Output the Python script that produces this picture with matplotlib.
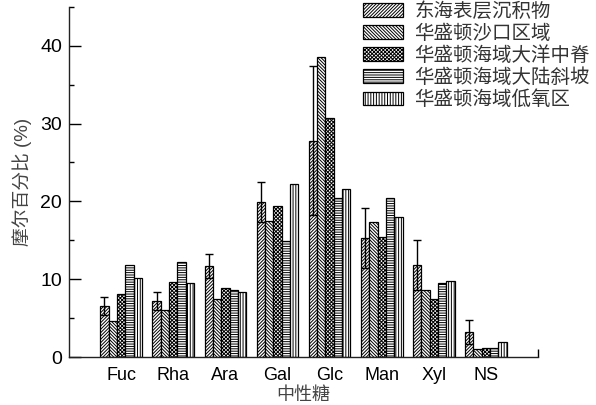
import matplotlib
matplotlib.use("Agg")
import matplotlib.pyplot as plt
import numpy as np

plt.rcParams['font.family'] = ['Liberation Sans', 'Noto Sans CJK SC']
plt.rcParams['hatch.linewidth'] = 0.7
plt.rcParams['axes.unicode_minus'] = False

# neutral sugar composition (mol %)
sugars = ['Fuc', 'Rha', 'Ara', 'Gal', 'Glc', 'Man', 'Xyl', 'NS']
series_names = ['东海表层沉积物', '华盛顿沙口区域', '华盛顿海域大洋中脊',
                '华盛顿海域大陆斜坡', '华盛顿海域低氧区']
east_sea = [6.6, 7.25, 11.7, 19.9, 27.8, 15.3, 11.8, 3.2]
east_sea_err = [1.15, 1.15, 1.5, 2.6, 9.6, 3.8, 3.2, 1.5]
wa_estuary = [4.6, 6.05, 7.4, 17.5, 38.5, 17.3, 8.6, 1.0]
wa_ridge = [8.05, 9.7, 8.9, 19.4, 30.7, 15.4, 7.4, 1.1]
wa_slope = [11.8, 12.2, 8.65, 14.9, 20.5, 20.5, 9.5, 1.15]
wa_hypoxic = [10.2, 9.5, 8.3, 22.3, 21.6, 18.0, 9.8, 1.9]

series = [east_sea, wa_estuary, wa_ridge, wa_slope, wa_hypoxic]
hatches = ['/' * 10, '\\' * 10, 'x' * 9, '-' * 7, '|' * 6]

fig = plt.figure(figsize=(5.96, 4.05), dpi=100)
ax = fig.add_axes([0.1158, 0.1185, 0.7869, 0.8645])

x = np.arange(1, len(sugars) + 1)
w = 0.16
for i, (vals, name, h) in enumerate(zip(series, series_names, hatches)):
    pos = x + (i - 2) * w
    kw = {}
    if i == 0:
        kw = dict(yerr=east_sea_err,
                  error_kw=dict(ecolor='black', elinewidth=1.0, capsize=3, capthick=1.0))
    ax.bar(pos, vals, width=w, color='white', edgecolor='black', linewidth=0.9,
           hatch=h, label=name, **kw)

ax.set_xlim(0, 9)
ax.set_ylim(0, 45)
ax.set_xticks(x)
ax.set_xticklabels(sugars, fontsize=13)
ax.set_xticks([9], minor=True)
ax.set_yticks([0, 10, 20, 30, 40])
ax.set_yticks([5, 15, 25, 35, 45], minor=True)
ax.tick_params(axis='y', which='major', direction='in', length=8.5, width=1.0, labelsize=14, pad=5)
ax.tick_params(axis='y', which='minor', direction='in', length=3.5, width=1.0)
ax.tick_params(axis='x', which='major', length=0, pad=7)
ax.tick_params(axis='x', which='minor', direction='in', length=5.5, width=1.0)

for s in ['top', 'right']:
    ax.spines[s].set_visible(False)
for s in ['left', 'bottom']:
    ax.spines[s].set_color('#222222')
    ax.spines[s].set_linewidth(1.0)

ax.set_ylabel('摩尔百分比 (%)', fontsize=13.5, color='#444444', labelpad=6)
ax.set_xlabel('中性糖', fontsize=13, color='#444444', labelpad=2)

leg = ax.legend(loc='upper left', bbox_to_anchor=(0.609, 0.995),
                bbox_transform=fig.transFigure, frameon=False, fontsize=14,
                handlelength=2.05, handleheight=0.7, handletextpad=0.6,
                labelspacing=0.18, borderpad=0, borderaxespad=0)
for t in leg.get_texts():
    t.set_color('#333333')

fig.savefig('out.png', dpi=100)
